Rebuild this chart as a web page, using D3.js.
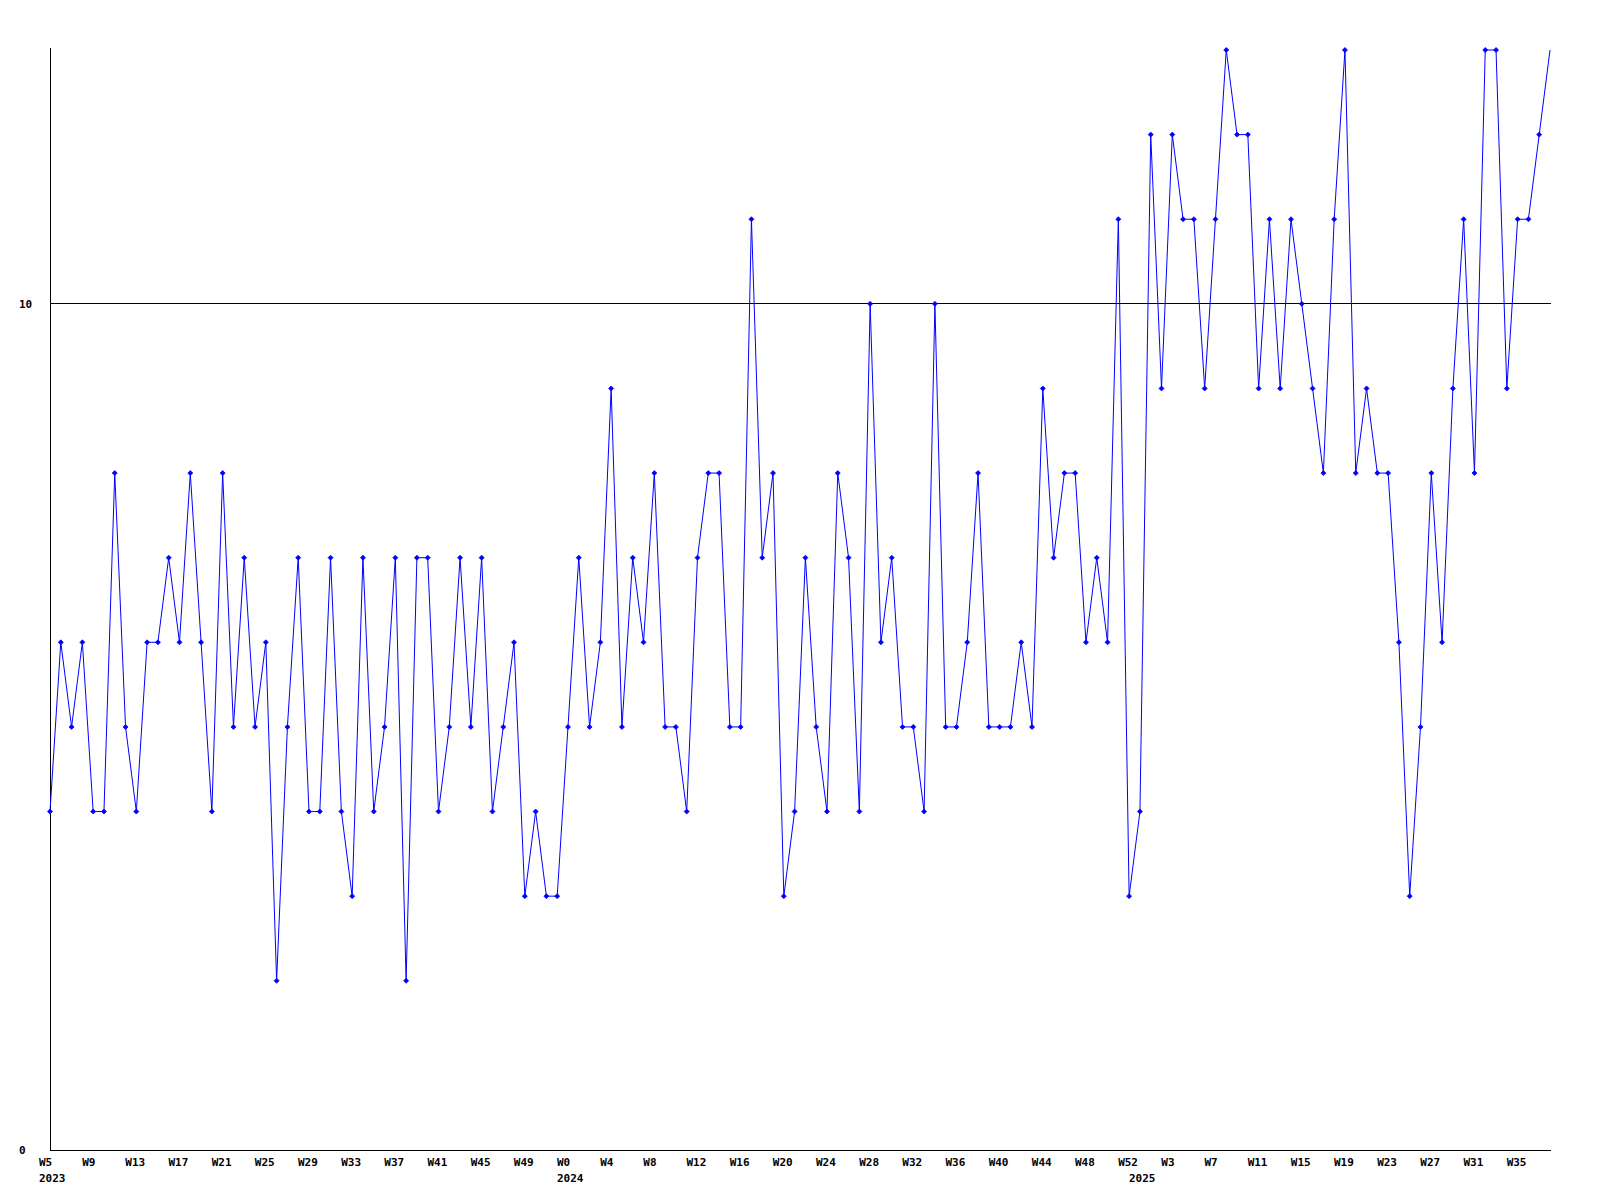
<!DOCTYPE html>
<html>
<head>
<meta charset="utf-8">
<script src="https://cdn.jsdelivr.net/npm/d3@7"></script>
<style>
  body { margin: 0; background: #fff; }
  .lbl { font-family: "DejaVu Sans Mono", monospace; font-size: 11px; font-weight: bold; fill: #000; }
</style>
</head>
<body>
<script>
// Figure dimensions
const W = 1600, H = 1200;
const margin = { top: 50, right: 50, bottom: 50, left: 50 };

// Weeks shown per year
const WEEKS_2023 = d3.range(5, 53);
const WEEKS_2024 = d3.range(0, 53);
const WEEKS_2025 = d3.range(0, 39);
const YEARS = ["2023", "2024", "2025"];

// Weekly counts
const VALUES = [
  4, 6, 5, 6, 4, 4, 8, 5, 4, 6, 6, 7, 6, 8, 6, 4, 8, 5, 7, 5,
  6, 2, 5, 7, 4, 4, 7, 4, 3, 7, 4, 5, 7, 2, 7, 7, 4, 5, 7, 5,
  7, 4, 5, 6, 3, 4, 3, 3, 5, 7, 5, 6, 9, 5, 7, 6, 8, 5, 5, 4,
  7, 8, 8, 5, 5, 11, 7, 8, 3, 4, 7, 5, 4, 8, 7, 4, 10, 6, 7, 5,
  5, 4, 10, 5, 5, 6, 8, 5, 5, 5, 6, 5, 9, 7, 8, 8, 6, 7, 6, 11,
  3, 4, 12, 9, 12, 11, 11, 9, 11, 13, 12, 12, 9, 11, 9, 11, 10, 9, 8, 11,
  13, 8, 9, 8, 8, 6, 3, 5, 8, 6, 9, 11, 8, 13, 13, 9, 11, 11, 12, 13
];

const Y_TICKS = [0, 10];
const Y_MAX = 13;

// Categories: year + week
const points = [];
[WEEKS_2023, WEEKS_2024, WEEKS_2025].forEach((weeks, yi) => {
  weeks.forEach((wk, j) => points.push({ key: YEARS[yi] + "-W" + wk, week: wk, year: YEARS[yi], first: j === 0 }));
});
points.forEach((p, i) => p.value = VALUES[i]);

// Scales
const x = d3.scalePoint()
  .domain(points.map(p => p.key))
  .range([margin.left, W - margin.right]);
const y = d3.scaleLinear()
  .domain([0, Y_MAX])
  .range([H - margin.bottom, margin.top]);

const svg = d3.select("body").append("svg")
  .attr("width", W)
  .attr("height", H);

// Grid line(s) and axes
svg.append("g")
  .selectAll("line")
  .data(Y_TICKS.filter(t => t > 0))
  .join("line")
    .attr("x1", margin.left)
    .attr("x2", W - margin.right + 1)
    .attr("y1", d => Math.round(y(d)) - 0.5)
    .attr("y2", d => Math.round(y(d)) - 0.5)
    .attr("stroke", "#000")
    .attr("stroke-width", 1);

svg.append("line")
  .attr("x1", margin.left + 0.5).attr("x2", margin.left + 0.5)
  .attr("y1", margin.top - 2).attr("y2", H - margin.bottom)
  .attr("stroke", "#000");
svg.append("line")
  .attr("x1", margin.left).attr("x2", W - margin.right + 1)
  .attr("y1", H - margin.bottom + 0.5).attr("y2", H - margin.bottom + 0.5)
  .attr("stroke", "#000");

// Y labels
svg.append("g")
  .selectAll("text")
  .data(Y_TICKS)
  .join("text")
    .attr("class", "lbl")
    .attr("x", 19)
    .attr("y", d => y(d) + 4)
    .text(d => d);

// X labels: every 4th week, year under the first week of each year
const ticks = points.filter((p, i) => i % 4 === 0);
svg.append("g")
  .selectAll("text")
  .data(ticks)
  .join("text")
    .attr("class", "lbl")
    .attr("x", d => x(d.key) - 11)
    .attr("y", H - margin.bottom + 16)
    .text(d => "W" + d.week);
svg.append("g")
  .selectAll("text")
  .data(points.filter(p => p.first))
  .join("text")
    .attr("class", "lbl")
    .attr("x", d => x(d.key) - 11)
    .attr("y", H - margin.bottom + 32)
    .text(d => d.year);

// Series line
const line = d3.line()
  .x(d => x(d.key))
  .y(d => y(d.value));

svg.append("path")
  .datum(points)
  .attr("fill", "none")
  .attr("stroke", "#0000ff")
  .attr("stroke-width", 1)
  .attr("d", line);

// Markers (last point sits on the frame edge, none drawn there)
const diamond = "M0,-2.5L2.5,0L0,2.5L-2.5,0Z";
svg.append("g")
  .selectAll("path")
  .data(points.slice(0, -1))
  .join("path")
    .attr("d", diamond)
    .attr("transform", d => `translate(${x(d.key)},${y(d.value)})`)
    .attr("fill", "#0000ff")
    .attr("stroke", "#0000ff")
    .attr("stroke-width", 0.8);
</script>
</body>
</html>
